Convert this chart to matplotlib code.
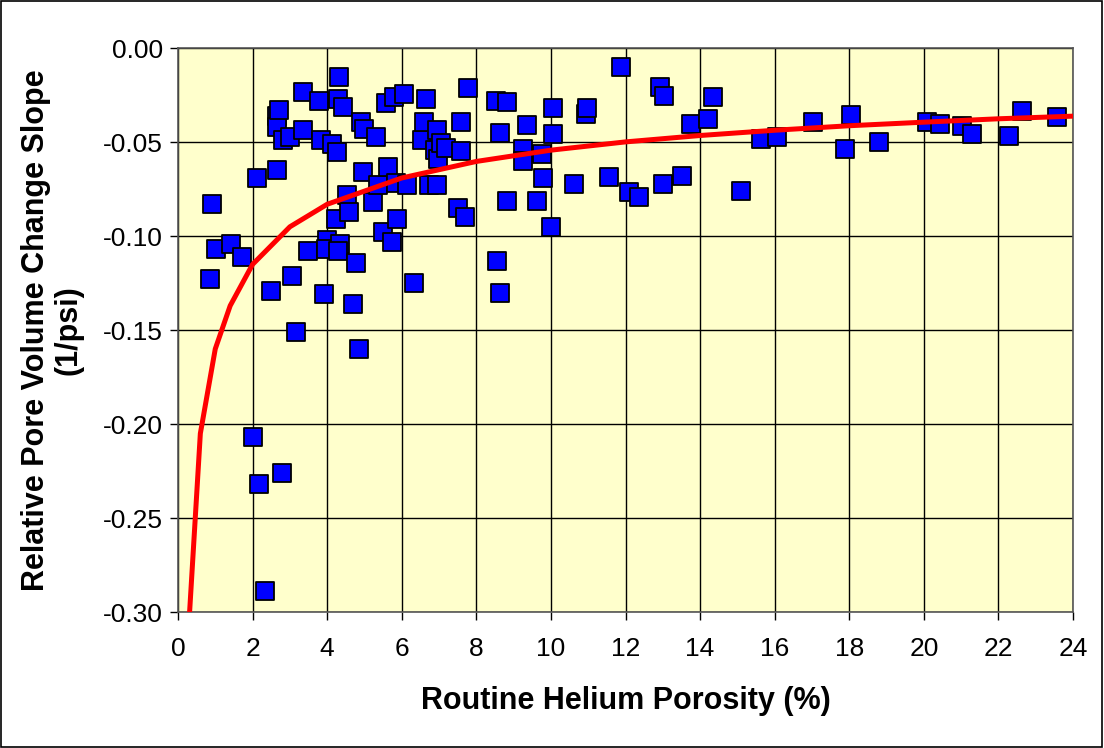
import matplotlib.pyplot as plt
from matplotlib.patches import Rectangle

plt.rcParams['font.family'] = ['Liberation Sans', 'DejaVu Sans']

# measured samples: porosity (%) and relative pore volume change slope (1/psi)
porosity = [
    0.86, 0.90, 1.02, 1.42, 1.73, 2.00, 2.13, 2.17, 2.33, 2.49,
    2.65, 2.65, 2.65, 2.72, 2.80, 2.81, 3.00, 3.05, 3.16, 3.36,
    3.36, 3.48, 3.79, 3.83, 3.91, 3.99, 3.97, 4.12, 4.24, 4.27,
    4.28, 4.32, 4.34, 4.29, 4.43, 4.54, 4.59, 4.70, 4.78, 4.86,
    4.92, 4.95, 4.99, 5.22, 5.30, 5.37, 5.50, 5.58, 5.62, 5.74,
    5.79, 5.85, 5.86, 6.05, 6.13, 6.34, 6.53, 6.60, 6.64, 6.74,
    6.90, 6.94, 6.94, 6.96, 7.05, 7.18, 7.51, 7.58, 7.60, 7.69,
    7.78, 8.53, 8.56, 8.63, 8.64, 8.83, 8.83, 9.24, 9.24, 9.35,
    9.63, 9.75, 9.79, 9.99, 10.06, 10.06, 10.62, 10.94, 10.98, 11.56,
    11.89, 12.09, 12.36, 12.92, 13.03, 13.01, 13.52, 13.75, 14.22, 14.35,
    15.10, 15.62, 16.05, 17.02, 17.88, 18.04, 18.79, 20.07, 20.43, 21.01,
    21.30, 22.29, 22.64, 23.56,
]
slope = [
    -0.123, -0.083, -0.107, -0.104, -0.111, -0.207, -0.069, -0.232, -0.289, -0.129,
    -0.065, -0.036, -0.042, -0.033, -0.226, -0.049, -0.047, -0.121, -0.151, -0.023,
    -0.0435, -0.108, -0.028, -0.049, -0.131, -0.102, -0.107, -0.051, -0.091, -0.055,
    -0.027, -0.015, -0.104, -0.108, -0.031, -0.078, -0.087, -0.136, -0.114, -0.160,
    -0.039, -0.066, -0.043, -0.082, -0.047, -0.073, -0.098, -0.029, -0.063, -0.103,
    -0.026, -0.0715, -0.091, -0.0245, -0.0725, -0.125, -0.049, -0.039, -0.027, -0.073,
    -0.054, -0.0435, -0.073, -0.059, -0.0505, -0.053, -0.085, -0.039, -0.0545, -0.090,
    -0.021, -0.028, -0.113, -0.130, -0.045, -0.0285, -0.081, -0.0535, -0.060, -0.041,
    -0.081, -0.056, -0.069, -0.095, -0.032, -0.0457, -0.072, -0.035, -0.032, -0.0686,
    -0.010, -0.0765, -0.079, -0.0204, -0.0253, -0.0723, -0.0678, -0.0403, -0.0378, -0.026,
    -0.0757, -0.048, -0.047, -0.0394, -0.0536, -0.0355, -0.0497, -0.0394, -0.0403, -0.0412,
    -0.0457, -0.0467, -0.0332, -0.0364,
]

# trend curve, sampled at a handful of porosities
trend_x = [0.2, 0.6, 1.0, 1.4, 2, 3, 4, 6, 8, 10, 12, 14, 16, 18, 20, 22, 24]
trend_y = [-0.337, -0.205, -0.160, -0.137, -0.115, -0.095, -0.083, -0.069, -0.0602,
           -0.0542, -0.0498, -0.0464, -0.0436, -0.0412, -0.0393, -0.0375, -0.0361]

fig = plt.figure(figsize=(11.04, 7.48), dpi=100)
ax = fig.add_axes([0.1612, 0.1818, 0.8108, 0.7536])
ax.set_facecolor('#FFFFCC')

ax.scatter(porosity, slope, marker='s', s=160, facecolor='#0000FF',
           edgecolor='black', linewidth=1.3, zorder=3)
ax.plot(trend_x, trend_y, color='#FF0000', lw=3.6, zorder=4, clip_on=True)

ax.set_xlim(0, 24)
ax.set_ylim(-0.30, 0.0)
ax.set_xticks(range(0, 25, 2))
ax.set_yticks([-0.30, -0.25, -0.20, -0.15, -0.10, -0.05, 0.00])
ax.set_yticklabels(['-0.30', '-0.25', '-0.20', '-0.15', '-0.10', '-0.05', '0.00'])
ax.grid(True, color='black', lw=1.0)
ax.set_axisbelow(True)
ax.tick_params(direction='out', length=6, width=1, labelsize=19, pad=5)
ax.tick_params(axis='x', pad=12)
for sp in ax.spines.values():
    sp.set_color('#555555')
    sp.set_linewidth(1.2)

ax.set_xlabel('Routine Helium Porosity (%)', fontsize=22, fontweight='bold', labelpad=18)
ax.set_ylabel('Relative Pore Volume Change Slope\n(1/psi)', fontsize=22,
              fontweight='bold', labelpad=14, linespacing=1.1)

# thin frame round the whole chart
fig.patches.append(Rectangle((0.001, 0.001), 0.997, 0.997, transform=fig.transFigure,
                             fill=False, edgecolor='black', lw=1.2))

fig.savefig('out.png', dpi=100, facecolor='white')
